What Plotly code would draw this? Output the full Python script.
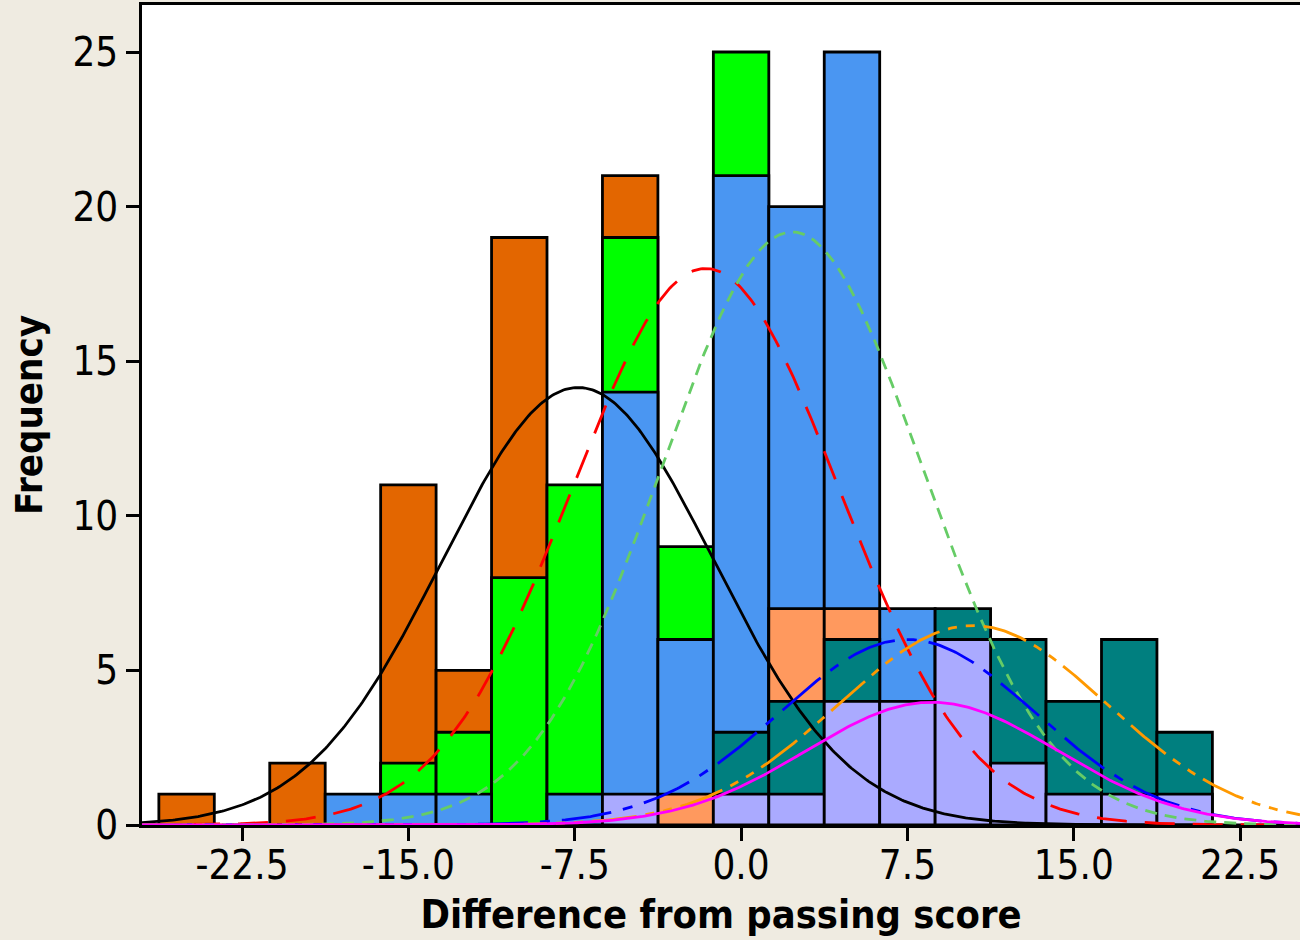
import numpy as np
import plotly.graph_objects as go

# ---- data ----
bin_centers = [-25, -22.5, -20, -17.5, -15, -12.5, -10, -7.5, -5, -2.5,
               0, 2.5, 5, 7.5, 10, 12.5, 15, 17.5, 20]
orange_counts   = [1, 0, 2, 0, 11, 5, 19, 0, 21, 0, 0, 0, 0, 0, 0, 0, 0, 0, 0]
green_counts    = [0, 0, 0, 0, 2, 3, 8, 11, 19, 9, 25, 0, 0, 0, 0, 0, 0, 0, 0]
blue_counts     = [0, 0, 0, 1, 1, 1, 0, 1, 14, 6, 21, 20, 25, 7, 0, 0, 0, 0, 0]
salmon_counts   = [0, 0, 0, 0, 0, 0, 0, 0, 0, 1, 0, 7, 7, 0, 0, 0, 0, 0, 0]
teal_counts     = [0, 0, 0, 0, 0, 0, 0, 0, 0, 0, 3, 4, 6, 0, 7, 6, 4, 6, 3]
lavender_counts = [0, 0, 0, 0, 0, 0, 0, 0, 1, 0, 1, 1, 4, 4, 6, 2, 1, 1, 1]

bar_series = [orange_counts, green_counts, blue_counts,
              salmon_counts, teal_counts, lavender_counts]
bar_colors = ["#E36600", "#00FF00", "#4A96F2", "#FF995E", "#007F7F", "#AAAAFF"]
bin_width = 2.5

# fitted normal curves: mean, standard deviation, peak frequency
fit_means = [-7.35, -1.6, 2.3, 7.5, 10.45, 8.6]
fit_sds   = [6.1, 6.0, 5.85, 5.75, 6.05, 5.65]
fit_peaks = [14.15, 18.0, 19.18, 6.0, 6.45, 3.97]
fit_colors = ["#000000", "#FF0000", "#66CC66", "#0000FF", "#FF9900", "#FF00FF"]
fit_dashes = ["solid", "30px,18px", "12px,8px", "50px,12px,10px,12px",
              "45px,9px,9px,9px,9px,9px", "solid"]

x_tick_vals = [-22.5, -15.0, -7.5, 0.0, 7.5, 15.0, 22.5]
x_tick_text = ["-22.5", "-15.0", "-7.5", "0.0", "7.5", "15.0", "22.5"]
y_tick_vals = [0, 5, 10, 15, 20, 25]

x_range = [-27.01, 25.2]
y_range = [0, 26.52]

FONT = "DejaVu Sans Condensed, DejaVu Sans, sans-serif"

fig = go.Figure()
for counts, color in zip(bar_series, bar_colors):
    fig.add_trace(go.Bar(
        x=bin_centers,
        y=[c if c > 0 else None for c in counts],
        width=bin_width,
        marker=dict(color=color, line=dict(color="#000000", width=2.8)),
        showlegend=False,
    ))

xs = np.linspace(x_range[0], x_range[1], 600)
for m, s, p, col, dsh in zip(fit_means, fit_sds, fit_peaks, fit_colors, fit_dashes):
    ys = p * np.exp(-((xs - m) ** 2) / (2 * s ** 2))
    fig.add_trace(go.Scatter(
        x=xs, y=ys, mode="lines",
        line=dict(color=col, width=2.8, dash=dsh),
        showlegend=False, hoverinfo="skip",
    ))

fig.update_layout(
    width=1300, height=940,
    barmode="overlay",
    paper_bgcolor="#EFEBE1",
    plot_bgcolor="#FFFFFF",
    margin=dict(l=142, r=0, t=5, b=115),
    font=dict(family=FONT, color="#000000"),
)
fig.update_xaxes(
    range=x_range, tickvals=x_tick_vals, ticktext=x_tick_text,
    showgrid=False, zeroline=False,
    showline=True, linecolor="#000000", linewidth=2.5, mirror=True,
    ticks="outside", ticklen=13, tickwidth=2.5, tickcolor="#000000",
    ticklabelstandoff=-10,
    tickfont=dict(size=40, family=FONT),
    title=dict(text="Difference from passing score",
               font=dict(size=39.5, family=FONT, weight="bold"), standoff=14),
)
fig.update_yaxes(
    range=y_range, tickvals=y_tick_vals,
    showgrid=False, zeroline=False,
    showline=True, linecolor="#000000", linewidth=2.5,
    ticks="outside", ticklen=13, tickwidth=2.5, tickcolor="#000000",
    tickfont=dict(size=40, family=FONT),
    title=dict(text="Frequency",
               font=dict(size=38, family=FONT, weight="bold"), standoff=19),
)

fig.write_html("out.html")
